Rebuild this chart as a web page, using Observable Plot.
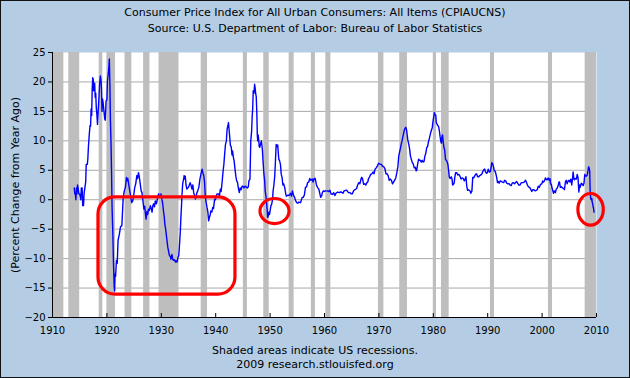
<!DOCTYPE html>
<html><head><meta charset="utf-8">
<script src="https://cdn.jsdelivr.net/npm/d3@7"></script>
<script src="https://cdn.jsdelivr.net/npm/@observablehq/plot@0.6"></script>
<style>
html,body{margin:0;padding:0;background:#fff;}
#wrap{position:relative;width:630px;height:378px;background:#b4cde4;box-shadow:inset 0 0 0 1px #111;font-family:"DejaVu Sans",Verdana,sans-serif;color:#000;overflow:hidden;}
#head{height:40px;box-sizing:border-box;padding-top:5px;text-align:center;font-size:11px;line-height:15.5px;}
#foot{height:38px;box-sizing:border-box;padding-top:4px;text-align:center;font-size:11px;line-height:14px;}
#chart svg{display:block;}
</style></head><body>
<div id="wrap">
<div id="head"><div>Consumer Price Index for All Urban Consumers: All Items (CPIAUCNS)</div><div>Source: U.S. Department of Labor: Bureau of Labor Statistics</div></div>
<div id="chart"></div>
<div id="foot"><div>Shaded areas indicate US recessions.</div><div>2009 research.stlouisfed.org</div></div>
</div>
<script>
// CPI, percent change from year ago
const years = [
1914.0,1914.1,1914.2,1914.3,1914.4,1914.5,1914.6,1914.7,1914.85,1915.0,1915.2,1915.3,1915.45,1915.55,1915.7,1915.8,1915.95,
1916.1,1916.2,1916.4,1916.5,1916.6,1916.75,1916.9,1917.0,1917.1,1917.2,1917.3,1917.4,1917.5,1917.55,1917.65,1917.75,1917.85,1917.95,
1918.05,1918.15,1918.27,1918.4,1918.55,1918.65,1918.8,1918.9,1919.0,1919.1,1919.2,1919.3,1919.45,1919.6,1919.7,1919.85,
1920.0,1920.1,1920.25,1920.35,1920.45,1920.55,1920.65,1920.75,1920.85,1920.95,1921.1,1921.2,1921.35,1921.42,1921.5,1921.6,1921.75,1921.9,
1922.05,1922.3,1922.5,1922.75,1922.9,1923.0,1923.2,1923.4,1923.6,1923.7,1923.85,1924.0,1924.2,1924.35,1924.55,1924.75,1924.9,
1925.1,1925.3,1925.5,1925.65,1925.8,1925.95,1926.1,1926.3,1926.45,1926.6,1926.8,1926.95,1927.05,1927.2,1927.35,1927.5,1927.65,1927.8,
1928.0,1928.15,1928.3,1928.45,1928.6,1928.75,1928.9,1929.1,1929.25,1929.4,1929.5,1929.65,1929.8,1929.95,
1930.1,1930.25,1930.4,1930.55,1930.65,1930.8,1930.9,1931.05,1931.2,1931.35,1931.5,1931.65,1931.8,1931.95,
1932.1,1932.27,1932.45,1932.6,1932.75,1932.9,1933.05,1933.2,1933.3,1933.4,1933.5,1933.6,1933.7,1933.8,1933.93,
1934.1,1934.2,1934.35,1934.4,1934.55,1934.7,1934.85,1935.0,1935.15,1935.3,1935.45,1935.65,1935.8,1935.95,
1936.1,1936.26,1936.4,1936.55,1936.7,1936.9,1937.1,1937.3,1937.5,1937.65,1937.8,1937.95,
1938.1,1938.25,1938.4,1938.55,1938.7,1938.85,1939.0,1939.1,1939.3,1939.45,1939.6,1939.8,1939.95,
1940.1,1940.25,1940.5,1940.7,1940.85,1941.0,1941.2,1941.35,1941.5,1941.65,1941.8,1941.95,
1942.1,1942.25,1942.35,1942.45,1942.55,1942.7,1942.85,1943.0,1943.1,1943.25,1943.4,1943.55,1943.7,1943.85,
1944.0,1944.2,1944.35,1944.5,1944.7,1944.85,1945.0,1945.2,1945.4,1945.6,1945.8,
1946.0,1946.1,1946.3,1946.45,1946.6,1946.7,1946.8,1946.9,1947.05,1947.15,1947.25,1947.35,1947.45,1947.55,1947.65,1947.72,1947.8,1947.9,
1948.0,1948.1,1948.25,1948.4,1948.5,1948.6,1948.7,1948.85,1949.0,1949.1,1949.25,1949.35,1949.45,1949.55,1949.65,1949.76,1949.9,
1950.0,1950.15,1950.3,1950.45,1950.55,1950.7,1950.85,1950.95,1951.05,1951.12,1951.25,1951.4,1951.5,1951.6,1951.75,1951.9,
1952.05,1952.2,1952.35,1952.5,1952.7,1952.9,1953.0,1953.3,1953.5,1953.75,1953.95,1954.1,1954.3,1954.5,1954.7,1954.9,
1955.1,1955.3,1955.6,1955.9,1956.1,1956.3,1956.5,1956.7,1956.9,1957.1,1957.3,1957.5,1957.75,1957.9,
1958.1,1958.3,1958.5,1958.7,1958.96,1959.15,1959.3,1959.5,1959.6,1959.8,
1960.0,1960.2,1960.5,1960.8,1961.0,1961.2,1961.4,1961.7,1961.9,1962.1,1962.4,1962.7,1962.9,
1963.1,1963.4,1963.6,1963.9,1964.1,1964.4,1964.7,1964.9,1965.1,1965.4,1965.6,1965.9,
1966.1,1966.3,1966.5,1966.7,1966.85,1967.0,1967.2,1967.4,1967.6,1967.8,1967.95,
1968.1,1968.3,1968.5,1968.7,1968.95,1969.1,1969.3,1969.5,1969.7,1969.95,
1970.1,1970.3,1970.45,1970.65,1970.9,1971.1,1971.3,1971.5,1971.7,1971.9,
1972.1,1972.3,1972.5,1972.7,1972.95,1973.1,1973.3,1973.5,1973.65,1973.8,1973.95,
1974.1,1974.3,1974.5,1974.7,1974.8,1974.95,1975.1,1975.3,1975.5,1975.65,1975.8,1975.95,
1976.1,1976.3,1976.5,1976.7,1976.85,1976.95,1977.1,1977.3,1977.45,1977.6,1977.8,1977.95,
1978.15,1978.3,1978.45,1978.6,1978.8,1978.95,1979.1,1979.3,1979.5,1979.65,1979.8,1979.95,
1980.1,1980.2,1980.3,1980.45,1980.55,1980.65,1980.8,1980.95,1981.1,1981.25,1981.4,1981.5,1981.6,1981.7,1981.85,1981.95,
1982.1,1982.25,1982.4,1982.55,1982.7,1982.85,1982.95,1983.1,1983.3,1983.45,1983.55,1983.7,1983.85,1983.95,
1984.1,1984.3,1984.5,1984.7,1984.9,1985.1,1985.3,1985.5,1985.7,1985.9,
1986.0,1986.15,1986.3,1986.45,1986.6,1986.75,1986.9,1987.1,1987.25,1987.4,1987.55,1987.75,1987.95,
1988.15,1988.35,1988.55,1988.75,1988.95,1989.1,1989.3,1989.45,1989.6,1989.8,1989.95,
1990.1,1990.3,1990.5,1990.65,1990.75,1990.9,1991.05,1991.2,1991.35,1991.5,1991.65,1991.8,1991.95,
1992.1,1992.3,1992.5,1992.7,1992.95,1993.1,1993.3,1993.5,1993.7,1993.95,
1994.1,1994.3,1994.5,1994.7,1994.95,1995.1,1995.3,1995.5,1995.7,1995.95,
1996.1,1996.3,1996.5,1996.7,1996.95,1997.1,1997.3,1997.5,1997.7,1997.95,
1998.1,1998.3,1998.5,1998.7,1998.95,1999.1,1999.3,1999.5,1999.7,1999.95,
2000.1,2000.25,2000.45,2000.6,2000.8,2000.95,2001.1,2001.3,2001.45,2001.55,2001.7,2001.85,2001.95,
2002.1,2002.25,2002.45,2002.6,2002.8,2002.95,2003.1,2003.2,2003.35,2003.55,2003.75,2003.95,
2004.1,2004.3,2004.45,2004.6,2004.8,2004.95,2005.1,2005.3,2005.45,2005.6,2005.7,2005.85,2005.95,
2006.1,2006.3,2006.45,2006.6,2006.75,2006.9,2007.0,2007.2,2007.35,2007.55,2007.7,2007.85,2007.95,
2008.1,2008.3,2008.45,2008.55,2008.65,2008.75,2008.85,2008.95,2009.05,2009.15,2009.2,2009.3,2009.4,2009.45,2009.55
];
const values = [
2.0,1.0,1.0,0.0,2.0,1.0,2.5,2.0,1.0,1.0,0.0,2.0,2.0,-1.0,-1.0,1.0,2.0,
3.0,6.0,6.0,7.0,8.9,11.0,12.6,12.5,15.4,14.3,18.9,20.7,20.4,18.5,19.5,19.8,17.4,18.1,
15.6,14.6,12.8,15.1,17.5,19.6,21.0,20.4,19.0,15.0,17.1,16.5,15.1,13.7,13.5,16.8,
17.0,20.2,21.4,22.4,23.9,19.5,13.4,9.9,4.9,-1.3,-6.0,-10.5,-14.9,-15.5,-12.6,-13.0,-10.3,-10.8,
-6.9,-5.8,-4.6,-4.4,-1.5,0.4,1.5,2.1,3.8,3.2,3.6,2.7,1.5,0.7,-0.5,-0.2,0.5,
2.0,2.7,4.1,3.6,4.6,3.9,2.9,1.5,1.2,0.0,-1.6,-1.1,-2.1,-3.3,-2.0,-2.5,-1.6,-1.8,
-1.0,-1.5,-2.1,-1.0,-0.7,-1.2,-0.2,-0.7,0.0,0.6,1.0,0.6,0.4,1.0,
0.1,-0.6,-1.9,-3.0,-4.1,-5.0,-5.8,-7.0,-8.1,-8.8,-9.5,-9.6,-10.1,-9.3,
-10.1,-10.3,-10.2,-10.6,-10.4,-10.6,-9.8,-9.5,-8.4,-6.8,-5.3,-3.0,-1.3,0.8,2.7,
3.5,4.1,3.5,4.0,2.5,1.8,2.0,2.1,2.5,2.9,2.5,1.8,2.5,1.2,
0.8,0.1,0.6,1.2,1.5,2.1,3.5,4.4,5.2,4.5,4.1,3.0,
0.4,-0.5,-1.3,-2.0,-3.6,-3.0,-2.5,-1.9,-2.1,-1.3,-1.5,0.1,0.0,
0.6,1.0,1.0,0.7,1.8,1.4,3.2,4.8,6.0,7.8,9.4,9.9,
12.0,12.6,13.1,12.0,11.0,9.2,9.0,7.6,8.3,7.2,6.5,5.2,4.0,3.2,
3.0,1.8,1.2,2.0,1.7,2.3,2.3,2.0,2.3,2.2,2.0,
2.2,3.2,3.5,10.0,11.6,14.0,15.5,18.5,18.1,19.6,19.0,18.0,17.5,15.1,11.0,10.0,11.0,10.3,
9.0,8.9,9.5,10.0,9.2,8.3,6.6,4.5,3.2,1.5,0.5,-0.5,-1.6,-3.0,-2.8,-2.1,-2.5,
-1.9,-1.0,-0.7,0.0,1.5,2.5,4.0,5.9,8.0,9.4,9.0,9.3,8.0,6.9,6.6,6.0,
4.3,3.8,2.5,2.7,2.0,0.9,0.6,0.8,0.7,1.1,0.6,1.5,0.8,0.4,-0.2,-0.5,
-0.6,-0.4,-0.5,0.4,0.4,0.8,2.1,2.2,2.9,3.0,3.6,3.3,3.5,3.0,
3.6,3.6,2.6,2.1,1.8,1.0,0.4,0.7,1.2,1.5,
1.4,1.5,1.5,1.4,1.6,1.0,0.9,1.2,0.7,1.1,1.3,1.2,1.3,
1.3,1.1,1.5,1.6,1.6,1.2,1.2,1.0,1.0,1.6,1.7,1.9,
2.5,2.9,2.7,3.5,3.8,3.5,2.6,2.7,2.5,2.9,3.0,
3.6,3.9,4.3,4.4,4.7,4.4,5.2,5.4,5.7,6.2,
6.1,6.0,6.0,5.7,5.6,5.3,4.4,4.4,4.1,3.3,
3.5,3.3,2.7,3.0,3.4,3.7,4.6,5.7,7.4,8.1,8.7,
9.4,10.2,11.1,11.9,12.1,12.3,11.8,10.2,9.4,8.6,7.4,6.9,
6.4,6.1,5.4,5.5,4.9,5.0,5.9,6.9,6.7,6.7,6.4,6.7,
6.4,6.5,7.4,7.8,8.9,9.0,9.8,10.5,11.3,11.8,12.2,13.3,
14.2,14.8,14.4,14.4,13.1,12.9,12.6,12.5,11.8,10.7,9.8,9.6,10.8,11.0,9.6,8.9,
8.4,6.8,6.7,6.4,5.9,4.6,3.8,3.6,3.9,3.5,2.5,2.6,2.9,3.8,
4.6,4.6,4.2,4.3,4.0,3.5,3.7,3.6,3.2,3.6,
3.9,2.3,1.6,1.7,1.6,1.5,1.1,1.5,3.8,3.7,3.9,4.3,4.4,
3.9,3.9,4.1,4.2,4.4,4.8,5.1,5.2,4.7,4.5,4.6,
5.2,4.7,4.8,5.6,6.3,6.1,5.7,4.9,4.9,4.4,3.8,2.9,3.1,
2.8,3.2,3.1,3.0,2.9,3.3,3.2,2.8,2.7,2.7,
2.5,2.4,2.8,2.9,2.7,2.9,3.1,2.8,2.5,2.5,
2.8,2.9,2.9,3.0,3.3,3.0,2.5,2.2,2.1,1.7,
1.4,1.7,1.7,1.5,1.6,1.7,2.3,2.1,2.6,2.7,
3.2,3.0,3.2,3.7,3.4,3.4,3.7,3.3,3.6,2.7,2.6,1.9,1.6,
1.1,1.5,1.2,1.8,2.0,2.4,3.0,3.0,2.1,2.2,2.0,1.9,
1.7,3.1,3.3,2.7,3.2,3.3,3.0,3.5,2.5,3.6,4.7,3.5,3.4,
3.6,3.5,4.3,3.8,1.3,2.5,2.1,2.8,2.7,2.4,2.8,4.3,4.1,
4.0,4.2,5.0,5.6,5.4,4.9,1.1,0.1,0.0,0.2,-0.4,-0.7,-1.3,-1.4,-2.1
];

// US recessions (start / end, decimal years)
const recStart = [1910.0,1913.0,1918.583,1920.0,1923.333,1926.75,1929.583,1937.333,1945.083,1948.833,1953.5,1957.583,1960.25,1969.917,1973.833,1980.0,1981.5,1990.5,2001.167,2007.917];
const recEnd   = [1912.083,1915.0,1919.25,1921.583,1924.583,1927.917,1933.25,1938.5,1945.833,1949.833,1954.417,1958.333,1961.167,1970.917,1975.25,1980.583,1982.917,1991.25,2001.917,2010.0];

// Highlighted windows (deflation episodes): years and percent ranges
const hiX1 = [1918.45, 1948.23, 2006.67];
const hiX2 = [1943.63, 1953.57, 2011.34];
const hiY1 = [-16.1, -4.13, -4.41];
const hiY2 = [0.4, 0.12, 0.97];

const xTicks = [1910,1920,1930,1940,1950,1960,1970,1980,1990,2000,2010];
const yTicks = [25,20,15,10,5,0,-5,-10,-15,-20];
const yLabel = "(Percent Change from Year Ago)";

const cpi = years.map((t, i) => ({t, v: values[i]}));
const recessions = recStart.map((s, i) => ({start: s, end: recEnd[i]}));
const highlights = hiX1.map((x1, i) => ({x1, x2: hiX2[i], y1: hiY1[i], y2: hiY2[i]}));

const chart = Plot.plot({
  width: 630,
  height: 300,
  marginLeft: 52,
  marginRight: 34,
  marginTop: 12,
  marginBottom: 23,
  style: {background: "transparent", fontFamily: "DejaVu Sans, Verdana, sans-serif", fontSize: "10px", color: "#000"},
  x: {domain: [1910, 2010], label: null},
  y: {domain: [-20, 25], label: null},
  marks: [
    Plot.frame({fill: "white", stroke: "none"}),
    Plot.gridY(yTicks.filter(d => d > -20 && d < 25), {stroke: "#a9a9a9", strokeOpacity: 1, strokeWidth: 1}),
    Plot.rect(recessions, {x1: "start", x2: "end", fill: "#bebebe"}),
    Plot.ruleY([-20], {stroke: "#000", strokeWidth: 1}),
    Plot.ruleX([1910], {stroke: "#000", strokeWidth: 1}),
    Plot.axisY({ticks: yTicks, tickSize: 4, tickPadding: 3, label: null, fontSize: 10}),
    Plot.axisX({ticks: xTicks, tickSize: 4, dy: -4, fill: "none", label: null}),
    Plot.axisX({ticks: xTicks, tickSize: 0, tickPadding: 9, tickFormat: d => String(d), label: null, fontSize: 10}),
    Plot.text([yLabel], {frameAnchor: "left", dx: -37, rotate: -90, textAnchor: "middle", lineAnchor: "middle", text: d => d, fontSize: 11, fill: "#000"}),
    Plot.line(cpi, {x: "t", y: "v", stroke: "#0000ff", strokeWidth: 1.4}),
    Plot.rect([highlights[0]], {x1: "x1", x2: "x2", y1: "y1", y2: "y2", fill: "none", stroke: "#ff0000", strokeWidth: 3.2, rx: 17, ry: 17}),
    Plot.rect([highlights[1]], {x1: "x1", x2: "x2", y1: "y1", y2: "y2", fill: "none", stroke: "#ff0000", strokeWidth: 3.2, rx: 14.5, ry: 12.5}),
    Plot.rect([highlights[2]], {x1: "x1", x2: "x2", y1: "y1", y2: "y2", fill: "none", stroke: "#ff0000", strokeWidth: 3.2, rx: 12.7, ry: 15.8})
  ]
});
document.getElementById("chart").appendChild(chart);
</script>
</body></html>
